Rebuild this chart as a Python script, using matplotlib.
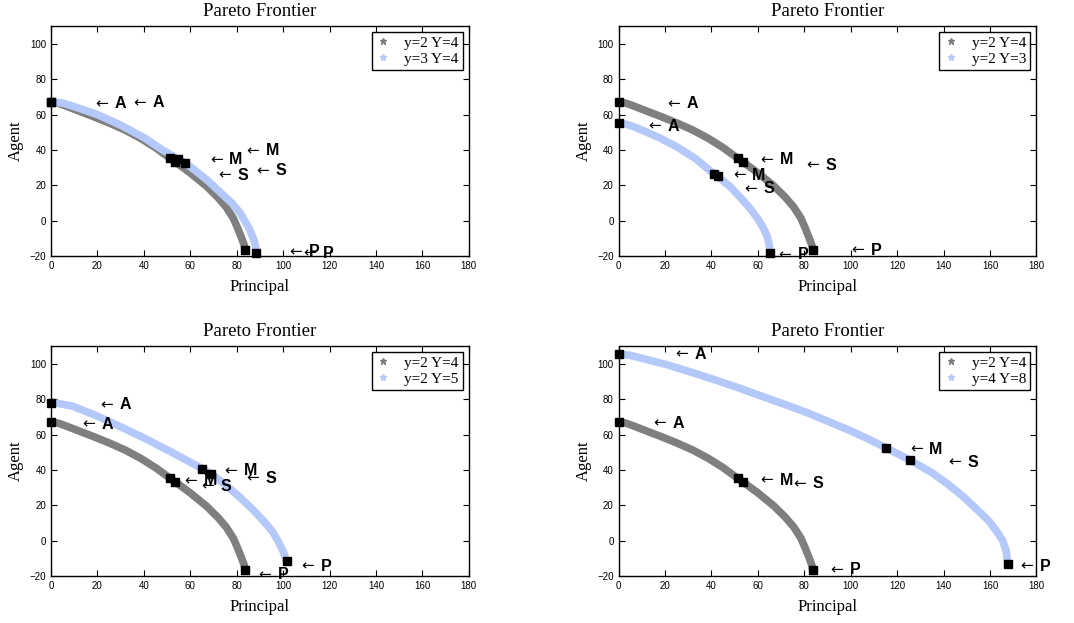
import numpy as np
import matplotlib.pyplot as plt
from matplotlib.lines import Line2D

# base frontier y=2 Y=4 (shared by every panel)
base_x = [0, 3, 5.8, 11.3, 18, 25, 32, 38.7, 45, 51.3, 53.5, 60, 67, 72, 75.5, 78.5, 80.5, 82.3, 83.3, 83.6]
base_y = [67, 66.5, 65.2, 62.4, 59, 55.3, 51.2, 46.5, 41.3, 35.3, 33.3, 27, 19.5, 13, 7.6, 1.5, -4.5, -10.5, -14, -16.5]
base_mx = [0, 51.3, 53.5, 83.6]
base_my = [67, 35.3, 33.3, -16.5]

# y=3 Y=4
c1_x = [0, 5, 10, 20, 30, 40, 48, 54.6, 57.8, 62, 67.5, 74.4, 78, 81.3, 85.5, 87.5, 88.2, 88.4]
c1_y = [67.1, 66.5, 64.5, 60, 54, 47, 40, 35, 32.7, 28.5, 22.7, 14.2, 9.8, 4.7, -4.7, -11.3, -15, -18]
c1_mx = [0, 54.6, 57.8, 88.4]
c1_my = [67.1, 35, 32.7, -18]

# y=2 Y=3
c2_x = [0, 3, 6, 11.4, 18, 25.3, 33, 41, 42.6, 48, 53, 57, 60, 62.3, 63.9, 64.8, 65.3]
c2_y = [55.2, 54.6, 53.4, 50.5, 46.6, 41.6, 35.2, 26.5, 25.1, 19.3, 12.3, 6.3, 0.9, -4, -8.5, -13, -18.5]
c2_mx = [0, 41, 42.6, 65.3]
c2_my = [55.2, 26.5, 25.1, -18.5]

# y=2 Y=5
c3_x = [0, 4, 9.4, 19, 29, 39.7, 52, 65, 69.1, 75, 81.1, 87, 92.1, 95.5, 97.7, 100, 101.5]
c3_y = [78, 77.4, 76, 71, 65, 58.3, 50, 40.8, 37.6, 31.8, 24.8, 17.5, 10.3, 5, 0, -6, -11.7]
c3_mx = [0, 65, 69.1, 101.5]
c3_my = [78, 40.8, 37.6, -11.7]

# y=4 Y=8
c4_x = [0, 5, 11, 20.8, 30, 40.9, 52, 61, 70, 81, 92, 101, 108, 115.2, 125.7, 134.9, 142,
        148.6, 154.5, 159.6, 163, 165.5, 167, 167.6]
c4_y = [105.4, 104.8, 102.8, 99.5, 95.8, 91.2, 86.3, 82, 77.8, 72.5, 66.5, 61.5, 57.2, 52.5,
        45.4, 38.5, 31.8, 24.8, 17.5, 11, 5, 0, -6, -13.1]
c4_mx = [0, 115.2, 125.7, 167.6]
c4_my = [105.4, 52.5, 45.4, -13.1]

legends = [["y=2 Y=4", "y=3 Y=4"], ["y=2 Y=4", "y=2 Y=3"],
           ["y=2 Y=4", "y=2 Y=5"], ["y=2 Y=4", "y=4 Y=8"]]
curves = [(c1_x, c1_y, c1_mx, c1_my), (c2_x, c2_y, c2_mx, c2_my),
          (c3_x, c3_y, c3_mx, c3_my), (c4_x, c4_y, c4_mx, c4_my)]

# label anchors (x, y, letter) per panel
labels = [
    [(18.9, 66.3, "A"), (35.4, 66.6, "A"), (68.4, 34.6, "M"), (84.2, 39.5, "M"),
     (72, 25.8, "S"), (88.5, 28.2, "S"), (102.6, -17.6, "P"), (108.6, -18.5, "P")],
    [(20.8, 66.3, "A"), (12.9, 53.4, "A"), (61, 34.6, "M"), (80.8, 31.4, "S"),
     (49.2, 25.8, "M"), (54, 18.2, "S"), (100.4, -16.6, "P"), (68.8, -19.4, "P")],
    [(21.1, 76.8, "A"), (13.6, 65.9, "A"), (74.5, 39.6, "M"), (84.2, 35.3, "S"),
     (57.4, 33.9, "M"), (64.6, 30.8, "S"), (107.9, -14.4, "P"), (89.5, -19.2, "P")],
    [(24.4, 105.4, "A"), (14.8, 66.3, "A"), (61, 34.3, "M"), (75.3, 32.1, "S"),
     (125.5, 51.8, "M"), (142, 44.3, "S"), (91.1, -16.4, "P"), (172.9, -14.5, "P")],
]

gray = "#7f7f7f"
blue = "#b4c8fa"
serif = "Liberation Serif"
sans = "Liberation Sans"

fig = plt.figure(figsize=(10.74, 6.23), dpi=100)
positions = [[0.0475, 0.589, 0.389, 0.369], [0.576, 0.589, 0.389, 0.369],
             [0.0475, 0.0754, 0.389, 0.369], [0.576, 0.0754, 0.389, 0.369]]

for i in range(4):
    ax = fig.add_axes(positions[i])
    cx, cy, mx, my = curves[i]
    ax.plot(base_x, base_y, color=gray, lw=5.5, solid_capstyle="round",
            solid_joinstyle="round", zorder=2)
    ax.plot(cx, cy, color=blue, lw=5.5, solid_capstyle="round",
            solid_joinstyle="round", zorder=2)
    ax.plot(base_mx, base_my, "ks", ms=6, zorder=4, clip_on=False)
    ax.plot(mx, my, "ks", ms=6, zorder=4, clip_on=False)
    for (lx, ly, s) in labels[i]:
        ax.text(lx, ly, "\u2190", fontsize=11, va="center", ha="left",
                family="DejaVu Sans", zorder=5)
        ax.annotate(s, xy=(lx, ly), xytext=(14, 0), textcoords="offset points",
                    fontsize=11.5, fontweight="bold", va="center", ha="left",
                    family=sans, zorder=5, annotation_clip=False)
    ax.set_xlim(0, 180)
    ax.set_ylim(-20, 110)
    ax.set_xticks(np.arange(0, 181, 20))
    ax.set_yticks(np.arange(-20, 101, 20))
    ax.tick_params(direction="in", top=True, right=True, labelsize=7, length=4, width=0.8)
    for lab in ax.get_xticklabels() + ax.get_yticklabels():
        lab.set_family(sans)
    for sp in ax.spines.values():
        sp.set_linewidth(1.0)
    ax.set_title("Pareto Frontier", family=serif, fontsize=13.5, pad=7)
    ax.set_xlabel("Principal", family=serif, fontsize=12, labelpad=6)
    ax.set_ylabel("Agent", family=serif, fontsize=12)
    handles = [Line2D([], [], ls="none", marker="*", color=gray, ms=5),
               Line2D([], [], ls="none", marker="*", color=blue, ms=5)]
    leg = ax.legend(handles, legends[i], loc="upper right", prop={"family": serif, "size": 11},
                    fancybox=False, framealpha=1, edgecolor="black", borderpad=0.25,
                    labelspacing=0.15, handlelength=1.0, handletextpad=0.9, borderaxespad=0.4)
    leg.get_frame().set_linewidth(1.0)

fig.savefig("out.png", dpi=100)
